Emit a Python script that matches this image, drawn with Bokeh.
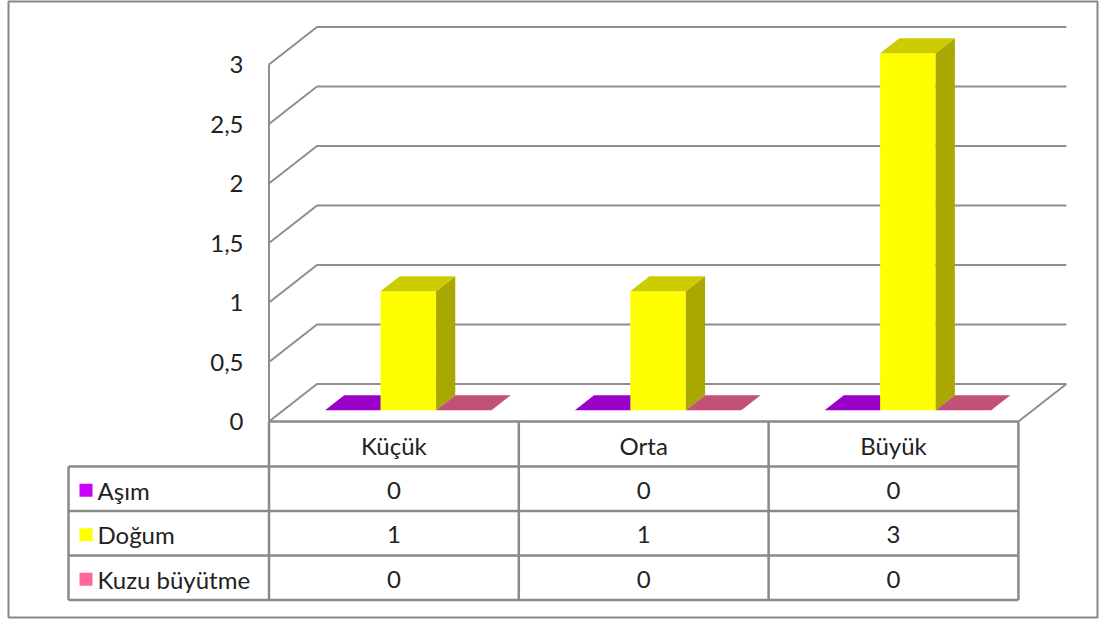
from bokeh.plotting import figure
from bokeh.models import Range1d
from bokeh.embed import file_html
from bokeh.resources import INLINE
from bokeh.core.properties import value

# ---- data -------------------------------------------------------------
categories = ["Küçük", "Orta", "Büyük"]
series_names = ["Aşım", "Doğum", "Kuzu büyütme"]
asim = [0, 0, 0]
dogum = [1, 1, 3]
kuzu_buyutme = [0, 0, 0]
series_values = [asim, dogum, kuzu_buyutme]
y_ticks = [0, 0.5, 1, 1.5, 2, 2.5, 3]
y_tick_labels = ["0", "0,5", "1", "1,5", "2", "2,5", "3"]

# face colours per series: (front, top, side)
series_colors = ["#CC00FF", "#FFFF00", "#FF6699"]
top_colors = ["#9A00C8", "#CCCC00", "#C25176"]
side_colors = ["#8A00B0", "#A8A800", "#B0456A"]

# ---- layout (pixels on the page) ---------------------------------------
W, H = 1099, 619
CAT_PX = 249.8          # width of one category on the front plane
VAL_PX = 119.0          # height of one value unit on the front plane
X0_PX, Y0_PX = 268.5, 421.0   # front-left corner of the floor
DEPTH_PX = (48.0, 37.5)       # offset from front plane to back wall
FONT = value("Lato")
FS = "24px"
TEXT_COLOR = "#222222"
GRID = "#8E8E8E"


def dx(px):
    return (px - X0_PX) / CAT_PX


def dy(py):
    return (Y0_PX - py) / VAL_PX


DX = DEPTH_PX[0] / CAT_PX
DY = DEPTH_PX[1] / VAL_PX
n_cat = len(categories)

p = figure(width=W, height=H, output_backend="svg", toolbar_location=None,
           x_range=Range1d(dx(8), dx(1097)), y_range=Range1d(dy(617), dy(1)),
           min_border_left=8, min_border_right=2, min_border_top=1,
           min_border_bottom=2)
p.axis.visible = False
p.grid.visible = False
p.outline_line_color = "#878787"
p.outline_line_width = 2
p.background_fill_color = "white"
p.border_fill_color = "white"

# ---- walls: gridlines on side and back wall ----------------------------
xs, ys = [], []
for t in y_ticks:
    xs.append([0, DX, n_cat + DX])
    ys.append([t, t + DY, t + DY])
# vertical axis line and right edge of the floor
xs.append([0, 0])
ys.append([0, max(y_ticks)])
xs.append([n_cat, n_cat + DX])
ys.append([0, DY])
p.multi_line(xs, ys, line_color=GRID, line_width=2)

p.text(x=[dx(243)] * len(y_ticks), y=y_ticks, text=y_tick_labels,
       text_font=FONT, text_font_size=FS, text_align="right",
       text_baseline="middle", text_color=TEXT_COLOR)

# ---- 3D columns ---------------------------------------------------------
n_ser = len(series_names)
gap = 1.5
bw = 1.0 / (n_ser + gap)
d0, d1 = 0.3, 0.7

for s in range(n_ser):
    fr_x, fr_y, tp_x, tp_y, sd_x, sd_y = [], [], [], [], [], []
    for c in range(n_cat):
        v = series_values[s][c]
        xl = c + (gap / 2 + s) * bw
        xr = xl + bw
        ax, ay = d0 * DX, d0 * DY
        bx, by = d1 * DX, d1 * DY
        tp_x.append([xl + ax, xr + ax, xr + bx, xl + bx])
        tp_y.append([v + ay, v + ay, v + by, v + by])
        if v > 0:
            fr_x.append([xl + ax, xr + ax, xr + ax, xl + ax])
            fr_y.append([ay, ay, v + ay, v + ay])
            sd_x.append([xr + ax, xr + bx, xr + bx, xr + ax])
            sd_y.append([ay, by, v + by, v + ay])
    if fr_x:
        p.patches(fr_x, fr_y, fill_color=series_colors[s], line_color=None)
        p.patches(sd_x, sd_y, fill_color=side_colors[s], line_color=None)
    p.patches(tp_x, tp_y, fill_color=top_colors[s], line_color=None)

# ---- data table ---------------------------------------------------------
row_edges_px = [421.0, 466.0, 510.5, 555.0, 599.5]
label_left = dx(68)
row_edges = [dy(r) for r in row_edges_px]

hx, hy = [], []
hx.append([0, n_cat])
hy.append([row_edges[0], row_edges[0]])
for r in row_edges[1:]:
    hx.append([label_left, n_cat])
    hy.append([r, r])
for c in range(n_cat + 1):
    hx.append([c, c])
    hy.append([row_edges[0], row_edges[-1]])
hx.append([label_left, label_left])
hy.append([row_edges[1], row_edges[-1]])
p.multi_line(hx, hy, line_color="#8A8A8A", line_width=2.5)

centers = [(row_edges[i] + row_edges[i + 1]) / 2 - 1.5 / VAL_PX
           for i in range(len(row_edges) - 1)]

p.text(x=[c + 0.5 for c in range(n_cat)], y=[centers[0]] * n_cat,
       text=categories, text_font=FONT, text_font_size=FS,
       text_align="center", text_baseline="middle", text_color=TEXT_COLOR)

vx, vy, vt = [], [], []
for s in range(n_ser):
    for c in range(n_cat):
        vx.append(c + 0.5)
        vy.append(centers[s + 1])
        vt.append(str(series_values[s][c]).replace(".", ","))
p.text(x=vx, y=vy, text=vt, text_font=FONT, text_font_size=FS,
       text_align="center", text_baseline="middle", text_color=TEXT_COLOR)

p.scatter(x=[dx(85.5)] * n_ser, y=[centers[s + 1] for s in range(n_ser)],
          marker="square", size=13, fill_color=series_colors, line_color=None)
p.text(x=[dx(97)] * n_ser, y=centers[1:], text=series_names,
       text_font=FONT, text_font_size=FS, text_align="left",
       text_baseline="middle", text_color=TEXT_COLOR)

open("out.html", "w").write(file_html(p, INLINE))
